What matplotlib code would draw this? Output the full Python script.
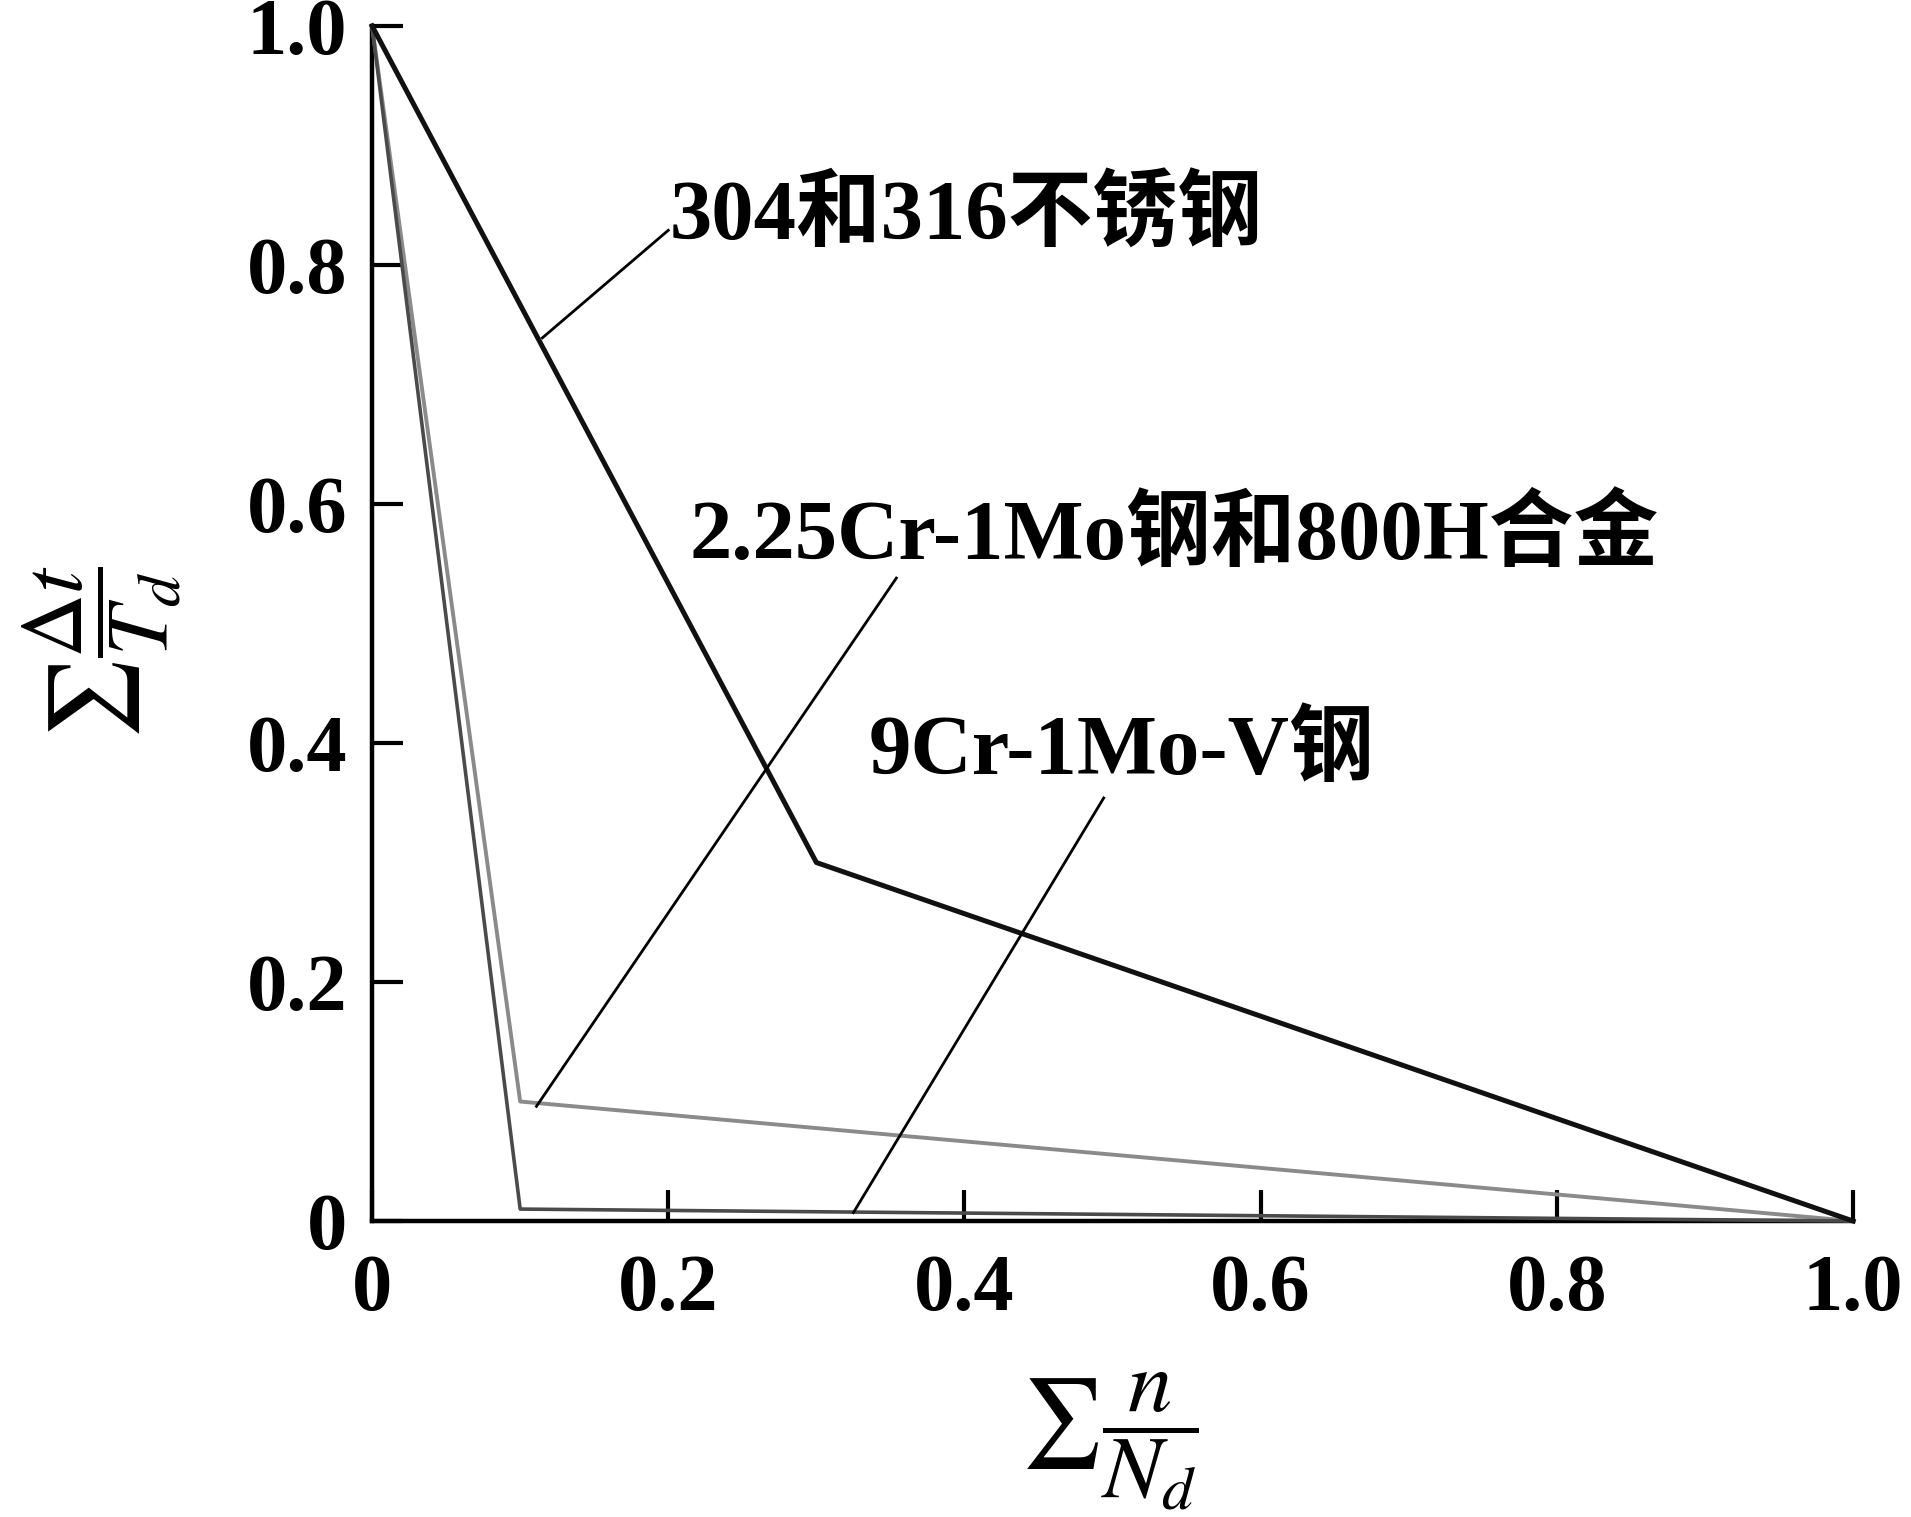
import numpy as np
import matplotlib
matplotlib.use("Agg")
import matplotlib.pyplot as plt

plt.rcParams['font.family'] = ['Liberation Serif', 'Noto Sans CJK SC']
plt.rcParams['mathtext.fontset'] = 'stix'

# Data
# ----
x_304 = [0.0, 0.3, 1.0]
y_304 = [1.0, 0.3, 0.0]

x_225 = [0.0, 0.1, 1.0]
y_225 = [1.0, 0.1, 0.0]

x_9cr = [0.0, 0.1, 1.0]
y_9cr = [1.0, 0.01, 0.0]

labels = ["304和316不锈钢", "2.25Cr-1Mo钢和800H合金", "9Cr-1Mo-V钢"]
# leader line: point on curve -> near the label
lead_x = [(0.115, 0.200), (0.111, 0.354), (0.325, 0.494)]
lead_y = [(0.739, 0.829), (0.096, 0.538), (0.007, 0.354)]
text_xy = [(0.201, 0.840), (0.214, 0.573), (0.335, 0.392)]

ticks = [0, 0.2, 0.4, 0.6, 0.8, 1.0]
tick_labels = ["0", "0.2", "0.4", "0.6", "0.8", "1.0"]

fig = plt.figure(figsize=(19.11, 15.17), dpi=100)
ax = fig.add_axes([0.1947, 0.1951, 0.775, 0.7878])

ax.plot(x_225, y_225, color="#8a8a8a", lw=2.8, clip_on=False, zorder=3)
ax.plot(x_9cr, y_9cr, color="#4a4a4a", lw=2.6, clip_on=False, zorder=3)
ax.plot(x_304, y_304, color="#111111", lw=3.6, clip_on=False, zorder=4)

for lab, lx, ly, (tx, ty) in zip(labels, lead_x, lead_y, text_xy):
    ax.plot(lx, ly, color="black", lw=2.0, zorder=5)
    ax.text(tx, ty, lab, fontsize=61, fontweight="bold",
            ha="left", va="center")

ax.set_xlim(0, 1)
ax.set_ylim(0, 1)
ax.set_xticks(ticks)
ax.set_xticklabels(tick_labels)
ax.set_yticks(ticks)
ax.set_yticklabels(tick_labels)

for s in ["top", "right"]:
    ax.spines[s].set_visible(False)
for s in ["left", "bottom"]:
    ax.spines[s].set_linewidth(3.2)

ax.tick_params(axis="both", direction="in", length=22, width=3,
               labelsize=58)
ax.tick_params(axis="x", pad=24)
ax.tick_params(axis="y", pad=18)
for lab in ax.get_xticklabels() + ax.get_yticklabels():
    lab.set_fontweight("bold")

ax.set_xlabel(r"$\sum\dfrac{n}{N_d}$", fontsize=64)
ax.set_ylabel(r"$\sum\dfrac{\Delta t}{T_d}$", fontsize=64)
ax.xaxis.set_label_coords(0.498, -0.125)
ax.yaxis.set_label_coords(-0.128, 0.476)

fig.savefig("out.png", dpi=100)
